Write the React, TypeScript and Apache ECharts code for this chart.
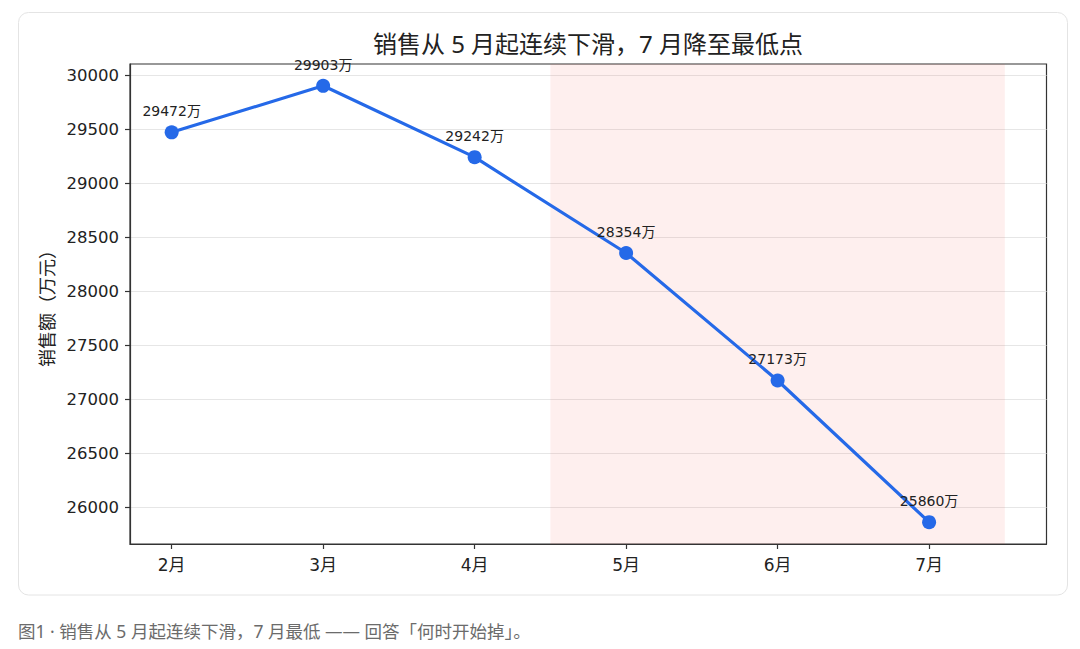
import React, { useEffect, useRef } from "react";
import * as echarts from "echarts";

const months = ["2月", "3月", "4月", "5月", "6月", "7月"];
const sales = [29472, 29903, 29242, 28354, 27173, 25860];
const yTicks = [26000, 26500, 27000, 27500, 28000, 28500, 29000, 29500, 30000];
const xTicks = [0, 1, 2, 3, 4, 5];
const highlightStart = 2.5;
const highlightEnd = 5.5;
const titleText = "销售从 5 月起连续下滑，7 月降至最低点";
const yName = "销售额（万元）";
const unit = "万";
const captionText = "图1 · 销售从 5 月起连续下滑，7 月最低 —— 回答「何时开始掉」。";

const NUM_FONT = '"DejaVu Sans", "Noto Sans CJK SC", sans-serif';
const CJK_FONT = '"Noto Sans", "Noto Sans CJK SC", sans-serif';
const BLUE = "#2569e8";

export default function App() {
  const ref = useRef<HTMLDivElement>(null);

  useEffect(() => {
    if (!ref.current) return;
    const chart = echarts.init(ref.current, undefined, { renderer: "svg" });

    const yLo = Math.min(...sales);
    const yHi = Math.max(...sales);
    const yPad = (yHi - yLo) * 0.05;
    const xLo = 0;
    const xHi = highlightEnd;
    const xPad = (xHi - xLo) * 0.05;

    chart.setOption({
      animation: false,
      backgroundColor: "#ffffff",
      textStyle: { fontFamily: NUM_FONT },
      title: {
        text: titleText,
        left: 588,
        top: 31,
        textAlign: "center",
        padding: 0,
        textStyle: {
          fontFamily: CJK_FONT,
          fontSize: 24,
          fontWeight: "normal",
          color: "#222222",
        },
      },
      grid: {
        left: 130,
        right: 33.5,
        top: 64,
        bottom: 105,
        show: true,
        borderColor: "#333333",
        borderWidth: 1.2,
        backgroundColor: "transparent",
        containLabel: false,
        outerBoundsMode: "none",
      },
      xAxis: {
        type: "value",
        min: xLo - xPad,
        max: xHi + xPad,
        axisLine: { show: true, onZero: false, lineStyle: { color: "#333333", width: 1.2 } },
        axisTick: {
          show: true,
          customValues: xTicks,
          length: 5,
          lineStyle: { color: "#333333", width: 1.2 },
        },
        axisLabel: {
          customValues: xTicks,
          formatter: (v: number) => months[Math.round(v)] ?? "",
          fontSize: 17,
          color: "#222222",
          margin: 12,
          fontFamily: NUM_FONT,
        },
        splitLine: { show: false },
      },
      yAxis: {
        type: "value",
        min: yLo - yPad,
        max: yHi + yPad,
        name: yName,
        nameLocation: "middle",
        nameGap: 74,
        nameTextStyle: { fontSize: 18, color: "#222222", fontFamily: CJK_FONT },
        axisLine: { show: true, onZero: false, lineStyle: { color: "#333333", width: 1.2 } },
        axisTick: {
          show: true,
          customValues: yTicks,
          length: 5,
          lineStyle: { color: "#333333", width: 1.2 },
        },
        axisLabel: {
          customValues: yTicks,
          formatter: (v: number) => String(Math.round(v)),
          fontSize: 16.5,
          color: "#222222",
          margin: 11,
          fontFamily: NUM_FONT,
        },
        splitLine: { show: true, lineStyle: { color: "#e6e6e6", width: 1 } },
      },
      series: [
        {
          type: "line",
          data: sales.map((v, i) => [i, v]),
          symbol: "circle",
          symbolSize: 14,
          lineStyle: { width: 3.2, color: BLUE },
          itemStyle: { color: BLUE },
          z: 3,
          label: {
            show: true,
            position: "top",
            distance: 7,
            formatter: (p: any) => `${p.value[1]}${unit}`,
            fontSize: 14,
            color: "#222222",
            fontFamily: NUM_FONT,
          },
          markArea: {
            silent: true,
            itemStyle: { color: "rgba(244, 67, 54, 0.085)" },
            data: [[{ xAxis: highlightStart }, { xAxis: highlightEnd }]],
          },
        },
      ],
      graphic: [
        {
          type: "rect",
          z: -100,
          shape: { x: 18.5, y: 12.5, width: 1049, height: 582.5, r: 10 },
          style: { fill: "none", stroke: "#e4e4e4", lineWidth: 1 },
          silent: true,
        },
        {
          type: "text",
          x: 18,
          y: 631,
          style: {
            text: captionText,
            fontSize: 17.5,
            fontFamily: CJK_FONT,
            fill: "#6b6b6b",
            verticalAlign: "middle",
            align: "left",
          },
          silent: true,
        },
      ],
    });

    return () => chart.dispose();
  }, []);

  return (
    <div
      ref={ref}
      style={{ position: "fixed", left: 0, top: 0, width: 1080, height: 649, background: "#fff" }}
    />
  );
}
